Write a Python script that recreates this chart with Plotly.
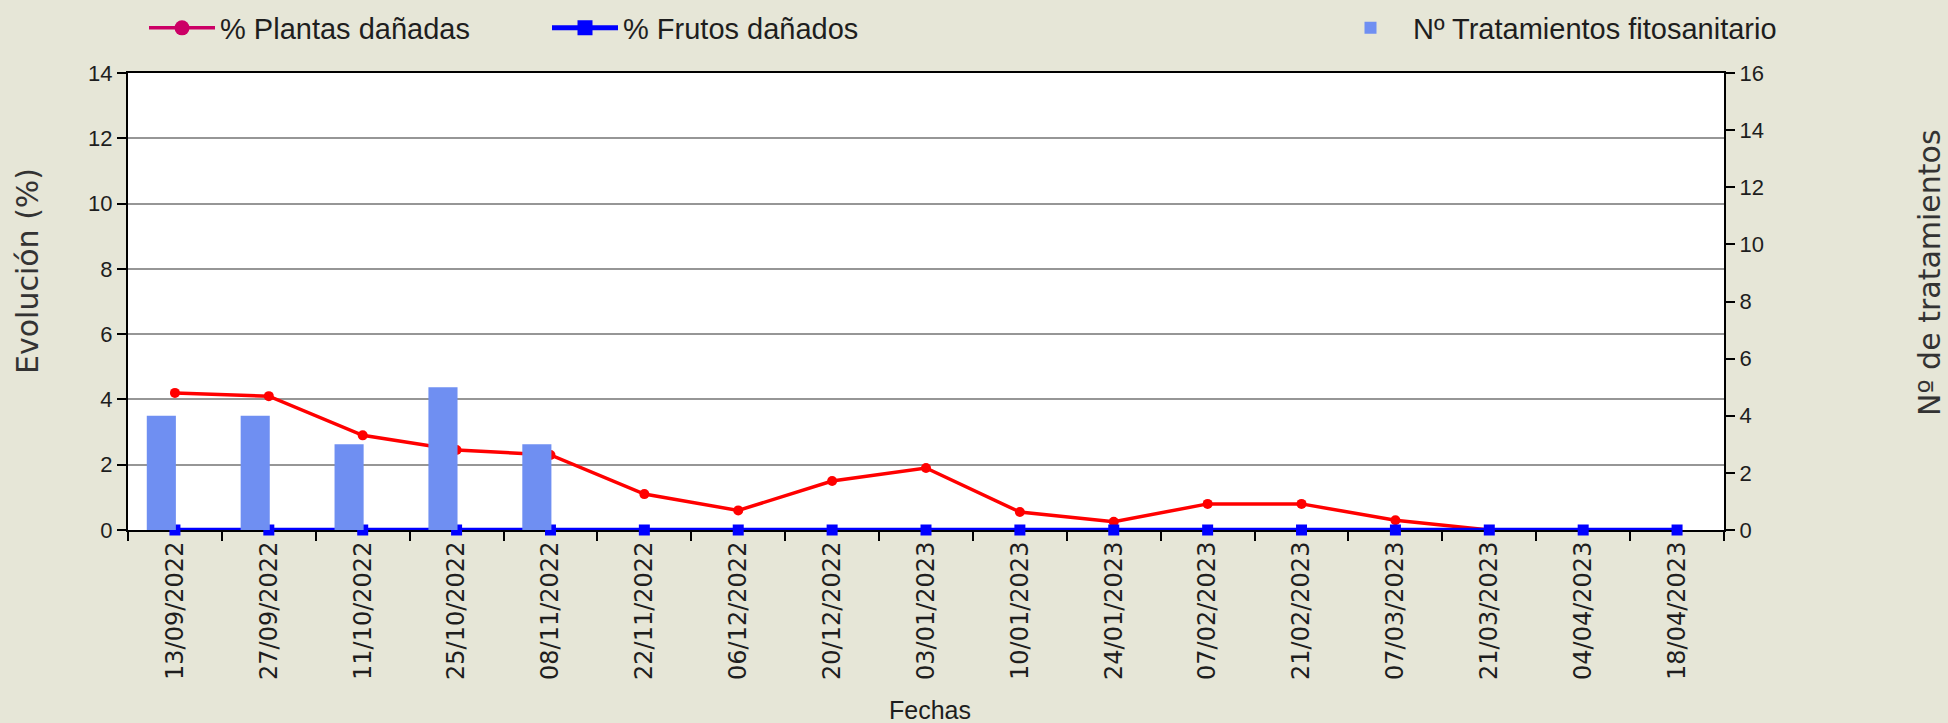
import plotly.graph_objects as go

fechas = ["13/09/2022", "27/09/2022", "11/10/2022", "25/10/2022", "08/11/2022",
          "22/11/2022", "06/12/2022", "20/12/2022", "03/01/2023", "10/01/2023",
          "24/01/2023", "07/02/2023", "21/02/2023", "07/03/2023", "21/03/2023",
          "04/04/2023", "18/04/2023"]
plantas_danadas = [4.2, 4.1, 2.9, 2.45, 2.3, 1.1, 0.6, 1.5, 1.9, 0.55,
                   0.25, 0.8, 0.8, 0.3, 0.0, 0.0, 0.0]
frutos_danados = [0] * 17
tratamientos = [4, 4, 3, 5, 3, 0, 0, 0, 0, 0, 0, 0, 0, 0, 0, 0, 0]

W, H = 1948, 723
L, R, T, B = 128, 1724, 73, 530
pw, ph = R - L, B - T

def px(x):
    return (x - L) / pw

def py(y):
    return (B - y) / ph

BG = "#E6E6D7"
TXT = "#1e1e1e"
NARROW = "Liberation Sans Narrow, Liberation Sans, Arial, sans-serif"
SANS = "Liberation Sans, Arial, sans-serif"
VERD = "DejaVu Sans, Verdana, sans-serif"

fig = go.Figure()

fig.add_trace(go.Bar(
    x=fechas, y=tratamientos, yaxis="y2", name="Nº Tratamientos fitosanitario",
    marker=dict(color="#6F8FF2", line=dict(width=0)),
    offset=-0.30, width=0.31, legend="legend2", showlegend=True,
))
fig.add_trace(go.Scatter(
    x=fechas, y=plantas_danadas, name="% Plantas dañadas", mode="lines+markers",
    line=dict(color="#FF0000", width=3.5), marker=dict(symbol="circle", size=10, color="#FF0000"),
    showlegend=False, cliponaxis=False,
))
fig.add_trace(go.Scatter(
    x=fechas, y=frutos_danados, name="% Frutos dañados", mode="lines+markers",
    line=dict(color="#0000FF", width=4.5), marker=dict(symbol="square", size=11, color="#0000FF"),
    showlegend=False, cliponaxis=False,
))
# legend keys (the reference legend shows these styles)
fig.add_trace(go.Scatter(
    x=[None], y=[None], name="% Plantas dañadas", mode="lines+markers",
    line=dict(color="#CC0066", width=3.5), marker=dict(symbol="circle", size=15, color="#CC0066"),
    legend="legend",
))
fig.add_trace(go.Scatter(
    x=[None], y=[None], name="% Frutos dañados", mode="lines+markers",
    line=dict(color="#0000FF", width=5), marker=dict(symbol="square", size=15, color="#0000FF"),
    legend="legend",
))

fig.update_layout(
    width=W, height=H,
    margin=dict(l=L, r=W - R, t=T, b=H - B, autoexpand=False),
    paper_bgcolor=BG, plot_bgcolor="#FFFFFF",
    barmode="overlay",
    xaxis=dict(
        type="category", range=[-0.5, 16.5], tickson="boundaries",
        ticks="outside", ticklen=9, tickwidth=1.5, tickcolor="#000000",
        showline=True, linecolor="#000000", linewidth=2, mirror=True,
        showgrid=False, tickangle=-90, layer="below traces",
        tickfont=dict(family=VERD, size=24, color=TXT),
    ),
    yaxis=dict(
        range=[0, 14], dtick=2, tick0=0, showgrid=True, gridcolor="#969696", gridwidth=2,
        zeroline=False, showline=True, linecolor="#000000", linewidth=2,
        ticks="outside", ticklen=9, tickwidth=1.5, tickcolor="#000000",
        tickfont=dict(family=SANS, size=22, color=TXT),
    ),
    yaxis2=dict(
        range=[0, 16], dtick=2, tick0=0, overlaying="y", side="right",
        showgrid=False, zeroline=False, showline=True, linecolor="#000000", linewidth=2,
        ticks="outside", ticklen=9, tickwidth=1.5, tickcolor="#000000",
        tickfont=dict(family=SANS, size=22, color=TXT),
    ),
    legend=dict(
        orientation="h", x=px(144), xanchor="left", y=py(28), yanchor="middle",
        bgcolor="rgba(0,0,0,0)", font=dict(family=SANS, size=29, color=TXT),
        itemwidth=66, entrywidth=322, traceorder="normal",
    ),
    legend2=dict(
        orientation="h", x=px(1328), xanchor="left", y=py(28), yanchor="middle",
        bgcolor="rgba(0,0,0,0)", font=dict(family=SANS, size=29, color=TXT),
        itemwidth=75,
    ),
    annotations=[
        dict(text="Evolución (%)", x=px(27), y=py(271), xref="paper", yref="paper",
             textangle=-90, showarrow=False, xanchor="center", yanchor="middle",
             font=dict(family=VERD, size=30, color="#333333")),
        dict(text="Nº de tratamientos", x=px(1929), y=py(273), xref="paper", yref="paper",
             textangle=-90, showarrow=False, xanchor="center", yanchor="middle",
             font=dict(family=VERD, size=30, color="#333333")),
        dict(text="Fechas", x=px(930), y=py(710), xref="paper", yref="paper",
             showarrow=False, xanchor="center", yanchor="middle",
             font=dict(family=NARROW, size=25, color=TXT)),
    ],
)

fig.write_html(
    "out.html",
    config={"displayModeBar": False},
    post_script="document.body.style.margin='0';document.body.style.overflow='hidden';",
)
